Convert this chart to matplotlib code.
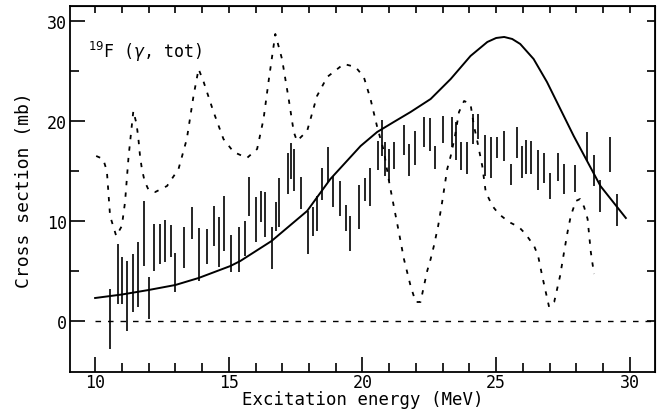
import matplotlib
matplotlib.use("Agg")
from matplotlib import pyplot as plt
import numpy

# measured points (energy, cross section, error)
exp_x = [10.54, 10.87, 11.00, 11.19, 11.40, 11.62, 11.84, 12.00, 12.22, 12.43,
         12.62, 12.83, 13.00, 13.33, 13.64, 13.90, 14.20, 14.43, 14.64, 14.83,
         15.09, 15.39, 15.59, 15.74, 16.02, 16.20, 16.37, 16.62, 16.77, 16.89,
         17.20, 17.33, 17.45, 17.69, 17.97, 18.16, 18.30, 18.49, 18.70, 18.90,
         19.15, 19.39, 19.55, 19.86, 20.11, 20.30, 20.57, 20.74, 20.86, 20.99,
         21.17, 21.57, 21.73, 21.95, 22.30, 22.51, 22.71, 23.02, 23.33, 23.51,
         23.67, 23.92, 24.13, 24.33, 24.57, 24.79, 25.04, 25.29, 25.54, 25.77,
         25.98, 26.13, 26.29, 26.57, 26.79, 27.01, 27.33, 27.55, 27.94, 28.38,
         28.66, 28.88, 29.25, 29.51]
exp_y = [0.2, 4.7, 4.05, 2.5, 3.8, 4.65, 8.75, 2.3, 7.35, 7.7,
         8.0, 8.0, 4.85, 7.35, 9.8, 6.65, 7.45, 9.5, 7.9, 9.75,
         6.75, 7.15, 8.25, 12.45, 10.15, 11.45, 10.65, 7.3, 10.45, 11.85,
         14.75, 16.0, 15.1, 12.8, 8.85, 9.95, 10.75, 13.7, 15.65, 12.95,
         12.25, 10.3, 8.75, 11.4, 13.15, 13.4, 16.55, 18.3, 16.2, 15.6,
         16.55, 18.1, 16.1, 17.25, 18.9, 18.65, 16.35, 19.15, 18.9, 17.95,
         16.45, 16.3, 19.2, 19.45, 16.55, 16.35, 17.35, 17.5, 14.65, 17.85,
         15.9, 16.4, 16.35, 15.1, 15.3, 13.5, 15.4, 14.2, 14.25, 17.45,
         15.0, 12.5, 16.65, 11.1]
exp_err = [3.0, 3.0, 2.35, 3.5, 2.9, 3.25, 3.25, 2.1, 2.35, 2.0,
           2.1, 1.6, 1.95, 2.05, 1.6, 2.65, 1.75, 2.0, 2.5, 2.75,
           1.85, 2.25, 1.75, 1.95, 2.25, 1.55, 2.25, 2.1, 1.45, 2.45,
           2.05, 1.8, 2.1, 1.6, 2.15, 1.45, 1.75, 1.6, 1.75, 1.55,
           1.75, 1.3, 1.75, 2.2, 1.15, 1.9, 1.45, 1.8, 1.7, 1.6,
           1.35, 1.5, 1.6, 1.7, 1.5, 1.65, 1.15, 1.35, 1.5, 1.9,
           1.4, 1.6, 1.5, 1.25, 2.05, 2.05, 1.05, 1.5, 1.05, 1.55,
           1.6, 1.7, 1.65, 2.0, 1.5, 1.3, 1.4, 1.5, 1.35, 1.45,
           1.55, 1.6, 1.75, 1.6]

# solid curve
solid_x = [10.0, 11.0, 12.0, 13.0, 13.87, 15.06, 15.43, 16.6, 17.93, 18.8,
           19.93, 20.55, 21.17, 21.8, 22.55, 23.3, 24.04, 24.67, 25.0, 25.3,
           25.6, 25.9, 26.4, 26.9, 27.4, 27.9, 28.4, 28.9, 29.85]
solid_y = [2.3, 2.65, 3.1, 3.6, 4.3, 5.5, 6.0, 8.0, 11.0, 14.2,
           17.5, 18.9, 19.9, 20.9, 22.2, 24.2, 26.5, 27.9, 28.3, 28.4,
           28.2, 27.7, 26.2, 23.9, 21.2, 18.5, 16.0, 13.5, 10.3]

# dotted curve
dash_x = [10.04, 10.3, 10.44, 10.56, 10.79, 11.0, 11.12, 11.25, 11.43, 11.55,
          11.62, 11.68, 11.75, 11.85, 12.0, 12.25, 12.69, 13.12, 13.43, 13.68,
          13.87, 14.06, 14.43, 14.8, 15.18, 15.68, 16.06, 16.3, 16.5, 16.74,
          16.99, 17.24, 17.43, 17.55, 17.93, 18.3, 18.68, 19.3, 19.74, 20.05,
          20.3, 20.55, 20.8, 20.99, 21.17, 21.36, 21.55, 21.8, 21.99, 22.17,
          22.42, 22.55, 22.67, 22.83, 22.98, 23.17, 23.3, 23.46, 23.61, 23.8,
          24.04, 24.17, 24.3, 24.48, 24.61, 24.86, 25.1, 25.48, 25.85, 26.1,
          26.42, 26.57, 26.73, 26.98, 27.17, 27.39, 27.54, 27.67, 27.79, 27.98,
          28.14, 28.29, 28.42, 28.54, 28.66]
dash_y = [16.5, 16.2, 15.0, 10.5, 8.5, 9.5, 11.9, 16.4, 21.0, 19.7,
          18.2, 16.5, 15.2, 14.0, 13.1, 12.9, 13.5, 15.2, 18.2, 22.5,
          25.2, 23.9, 20.9, 18.2, 16.9, 16.3, 17.2, 20.2, 24.2, 28.7,
          26.2, 22.2, 18.9, 18.0, 19.0, 22.5, 24.4, 25.7, 25.4, 24.4,
          22.2, 19.4, 17.0, 14.0, 11.5, 8.9, 6.2, 3.5, 1.9, 1.9,
          5.0, 6.2, 7.5, 9.5, 11.9, 15.2, 16.5, 18.5, 20.9, 22.0,
          21.7, 19.5, 17.9, 15.5, 12.9, 11.5, 10.7, 9.9, 9.4, 8.7,
          7.5, 6.5, 4.4, 1.4, 1.9, 4.5, 6.9, 8.9, 10.5, 12.0,
          12.2, 11.4, 10.2, 6.9, 4.7]

FONT = "DejaVu Sans Mono"

fig = plt.figure(figsize=(6.62, 4.10), dpi=100)
ax = fig.add_axes([0.1057, 0.0902, 0.8837, 0.8928])

ax.errorbar(exp_x, exp_y, yerr=exp_err, fmt="none", ecolor="black",
            elinewidth=1.2, capsize=0)
ax.plot(solid_x, solid_y, color="black", lw=1.4)
ax.plot(dash_x, dash_y, color="black", lw=1.3, linestyle=(0, (2.4, 4.0)))
ax.plot([10, 31], [0, 0], color="black", lw=1.0, linestyle=(0, (4, 5)))

ax.set_xlim(9.06, 30.94)
ax.set_ylim(-5.1, 31.5)

ax.set_xticks([10, 15, 20, 25, 30])
ax.set_xticks(numpy.arange(11, 30, 1), minor=True)
ax.set_yticks([0, 10, 20, 30])
ax.set_yticks([5, 15, 25], minor=True)
ax.tick_params(which="major", direction="in", length=11, width=1.2,
               labelsize=12, pad=2, top=False, right=False)
ax.tick_params(axis="x", which="major", pad=1)
ax.tick_params(which="minor", direction="in", length=6.5, width=1.2,
               top=False, right=False)
for lab in ax.get_xticklabels() + ax.get_yticklabels():
    lab.set_family(FONT)

top = ax.secondary_xaxis("top")
top.set_xticks(numpy.arange(10, 31, 1))
top.tick_params(direction="in", length=5, width=1.2, labeltop=False)
right = ax.secondary_yaxis("right")
right.set_yticks(numpy.arange(0, 31, 5))
right.tick_params(direction="in", length=5.5, width=1.2, labelright=False)

for s in ax.spines.values():
    s.set_linewidth(1.3)

ax.set_xlabel("Excitation energy (MeV)", family=FONT, fontsize=12.5, labelpad=-1)
ax.set_ylabel("Cross section (mb)", family=FONT, fontsize=13, labelpad=10)

ax.text(0.031, 0.86, r"$^{19}$F ($\gamma$, tot)", transform=ax.transAxes,
        family=FONT, fontsize=12)

fig.savefig("out.png", dpi=100)
